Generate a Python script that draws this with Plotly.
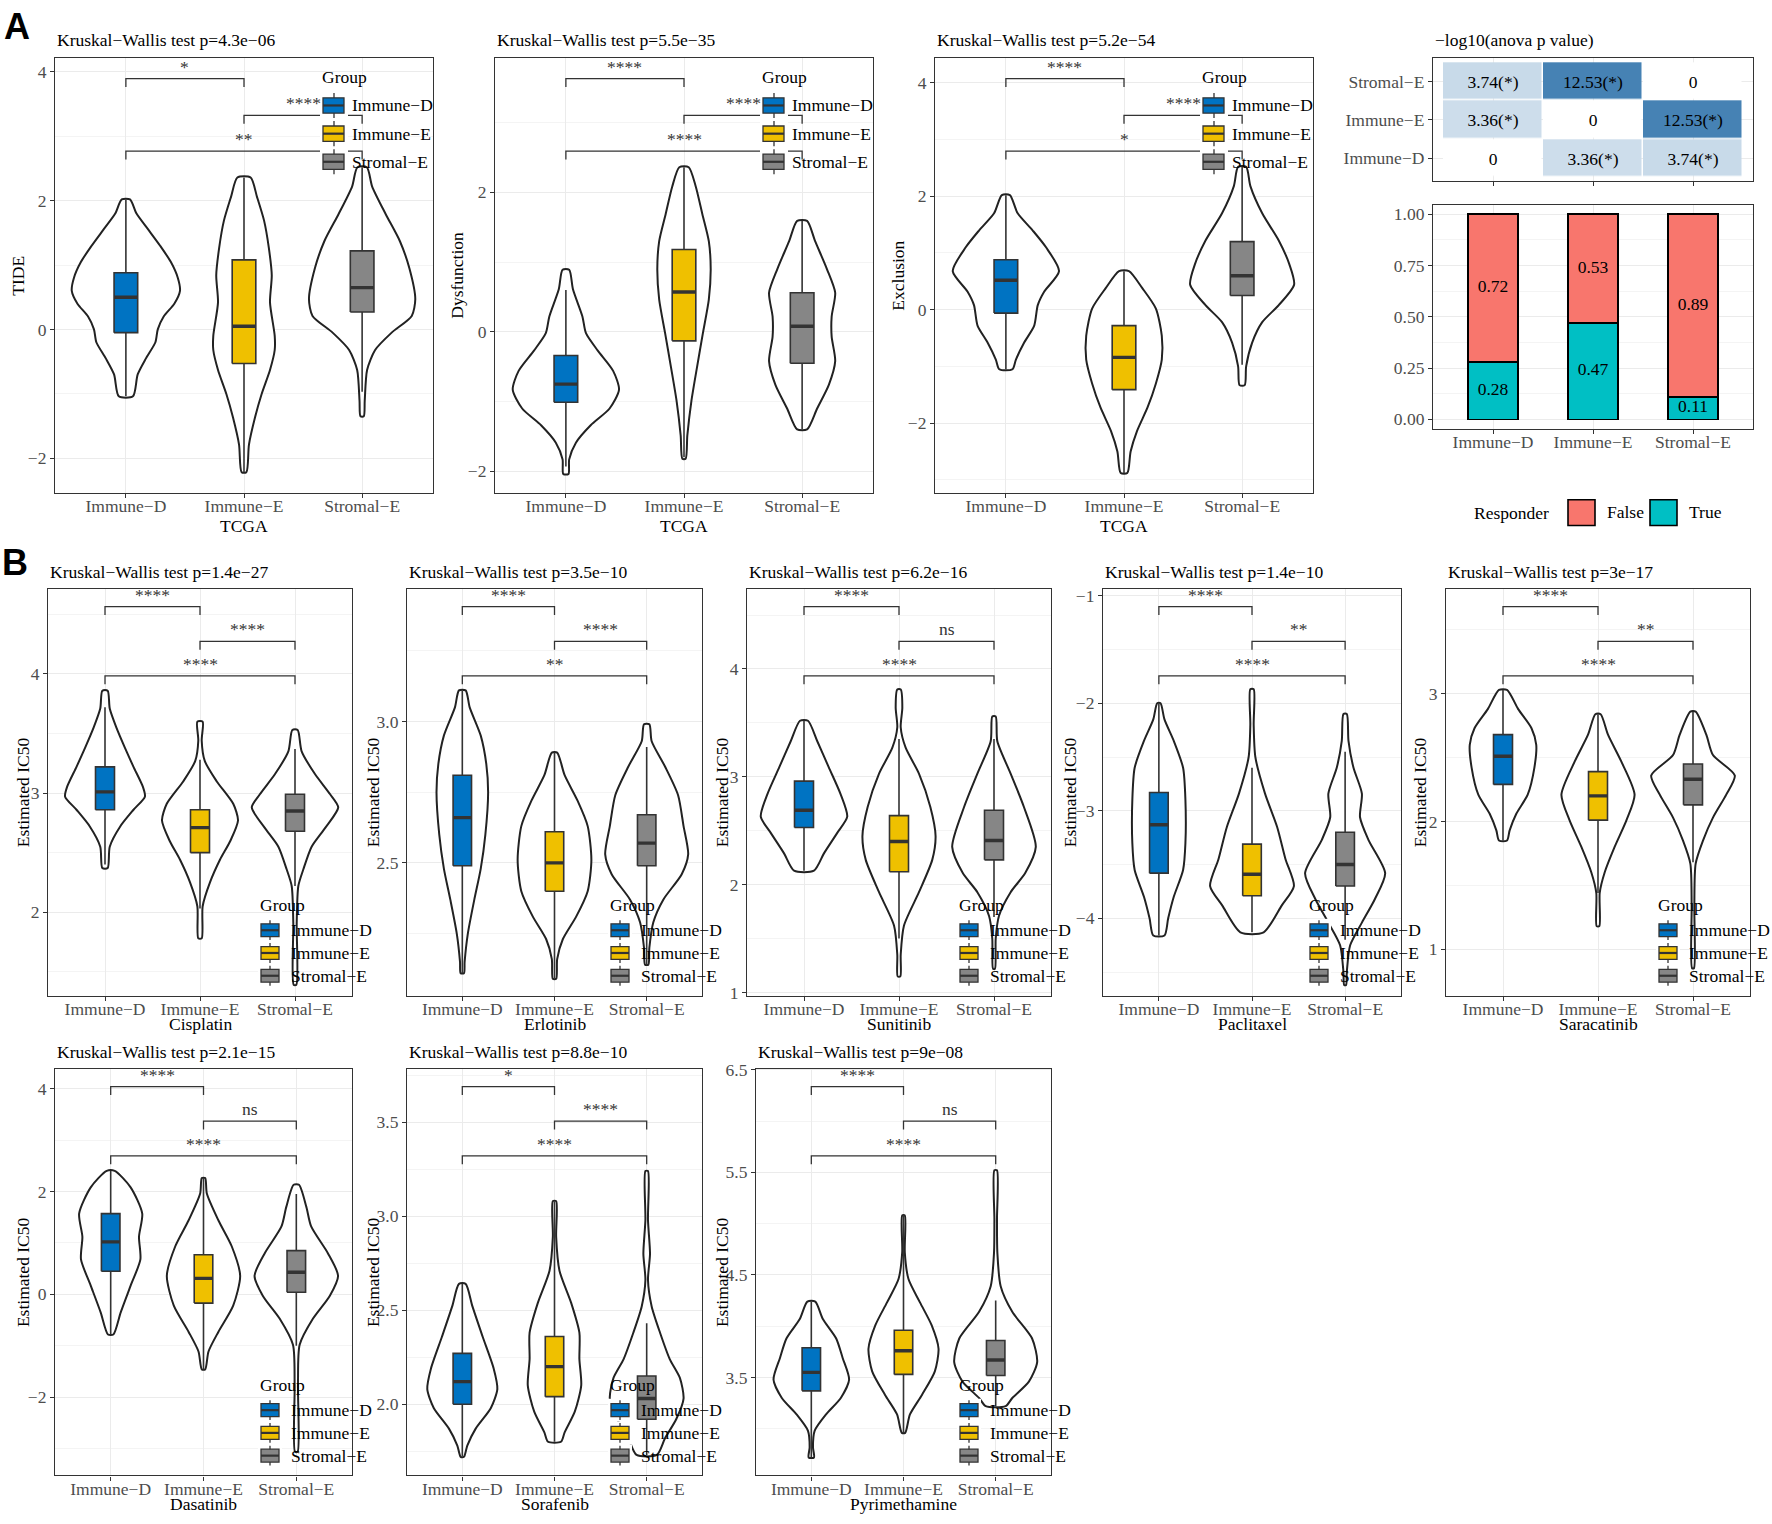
import plotly.graph_objects as go

W, H = 1772, 1524
FONT = "Liberation Serif, 'Times New Roman', serif"
GROUPS = ["Immune−D", "Immune−E", "Stromal−E"]
GROUP_COLORS = ["#0073C2", "#EFC000", "#868686"]
POS = [1, 2, 3]

# ---------------- data ----------------
# violin profiles: [value, half-width in category units], top -> bottom
TIDE_D = [[2.02, .035], [1.8, .09], [1.55, .19], [1.3, .29], [1.05, .38], [0.8, .44], [0.6, .458], [0.4, .41], [0.2, .32], [0.0, .27], [-0.2, .25], [-0.45, .17], [-0.7, .1], [-1.04, .06]]
TIDE_E = [[2.36, .056], [2.06, .11], [1.69, .17], [1.27, .21], [0.84, .235], [0.42, .22], [-0.1, .26], [-0.32, .26], [-0.63, .22], [-1.0, .15], [-1.37, .093], [-1.79, .042], [-2.22, .02]]
TIDE_S = [[2.52, .04], [2.22, .085], [1.79, .2], [1.37, .32], [0.95, .40], [0.47, .45], [0.21, .42], [-0.05, .25], [-0.32, .11], [-0.63, .042], [-1.11, .022], [-1.35, .014]]
TIDE_Q1 = [-0.05, -0.53, 0.27]
TIDE_MED = [0.5, 0.05, 0.65]
TIDE_Q3 = [0.88, 1.08, 1.22]
TIDE_LO = [-1.04, -2.22, -0.97]
TIDE_HI = [2.02, 2.36, 2.52]
TIDE_SIG = ["*", "****", "**"]

DYS_D = [[0.89, .028], [0.61, .06], [0.22, .14], [-0.02, .17], [-0.27, .27], [-0.56, .40], [-0.83, .45], [-1.1, .37], [-1.34, .21], [-1.59, .085], [-1.83, .028], [-2.04, .022]]
DYS_E = [[2.36, .04], [2.08, .1], [1.69, .155], [1.3, .21], [0.9, .226], [0.46, .21], [-0.02, .16], [-0.51, .11], [-1.0, .062], [-1.49, .028], [-1.82, .014]]
DYS_S = [[1.59, .042], [1.3, .11], [0.9, .21], [0.56, .28], [0.22, .25], [-0.07, .25], [-0.42, .28], [-0.76, .226], [-1.1, .127], [-1.4, .042]]
DYS_Q1 = [-1.01, -0.13, -0.45]
DYS_MED = [-0.75, 0.57, 0.08]
DYS_Q3 = [-0.34, 1.18, 0.56]
DYS_LO = [-1.93, -1.8, -1.4]
DYS_HI = [0.6, 2.36, 1.59]
DYS_SIG = ["****", "****", "****"]

EXC_D = [[2.02, .034], [1.7, .1], [1.4, .226], [1.1, .34], [0.68, .45], [0.32, .325], [0.08, .27], [-0.28, .24], [-0.58, .155], [-0.88, .085], [-1.05, .056]]
EXC_E = [[0.68, .042], [0.38, .155], [0.02, .27], [-0.46, .32], [-0.88, .32], [-1.3, .27], [-1.72, .2], [-2.14, .11], [-2.5, .056], [-2.88, .028]]
EXC_S = [[2.52, .034], [2.18, .07], [1.7, .17], [1.22, .31], [0.8, .40], [0.44, .44], [0.08, .31], [-0.22, .17], [-0.58, .085], [-1.0, .034], [-1.33, .022]]
EXC_Q1 = [-0.06, -1.41, 0.25]
EXC_MED = [0.52, -0.84, 0.6]
EXC_Q3 = [0.88, -0.28, 1.2]
EXC_LO = [-1.05, -2.88, -0.97]
EXC_HI = [2.02, 0.68, 2.52]
EXC_SIG = ["****", "****", "*"]

CIS_D = [[3.86, .028], [3.71, .05], [3.55, .12], [3.38, .21], [3.22, .3], [3.05, .40], [2.97, .42], [2.86, .3], [2.72, .16], [2.55, .05], [2.37, .028]]
CIS_E = [[3.6, .028], [3.44, .018], [3.27, .05], [3.1, .175], [2.91, .35], [2.77, .40], [2.6, .32], [2.44, .21], [2.25, .105], [2.05, .028], [1.78, .018]]
CIS_S = [[3.53, .028], [3.35, .07], [3.16, .21], [2.99, .37], [2.88, .455], [2.71, .32], [2.55, .175], [2.36, .088], [2.22, .035], [1.91, .018], [1.39, .014]]
CIS_Q1 = [2.86, 2.5, 2.68]
CIS_MED = [3.01, 2.71, 2.85]
CIS_Q3 = [3.22, 2.86, 2.99]
CIS_LO = [2.4, 2.03, 2.22]
CIS_HI = [3.72, 3.28, 3.37]
CIS_SIG = ["****", "****", "****"]

ERL_D = [[3.11, .036], [3.05, .08], [2.95, .2], [2.85, .26], [2.75, .28], [2.6, .25], [2.48, .2], [2.37, .13], [2.25, .06], [2.15, .025], [2.11, .018]]
ERL_E = [[2.89, .029], [2.81, .11], [2.72, .25], [2.63, .36], [2.51, .40], [2.4, .36], [2.31, .235], [2.23, .09], [2.16, .029], [2.09, .018]]
ERL_S = [[2.99, .029], [2.93, .054], [2.84, .2], [2.74, .34], [2.63, .40], [2.53, .45], [2.46, .38], [2.37, .18], [2.29, .072], [2.2, .029], [2.14, .018]]
ERL_Q1 = [2.49, 2.4, 2.49]
ERL_MED = [2.66, 2.5, 2.57]
ERL_Q3 = [2.81, 2.61, 2.67]
ERL_LO = [2.11, 2.09, 2.14]
ERL_HI = [3.11, 2.89, 2.91]
ERL_SIG = ["****", "****", "**"]

SUN_D = [[3.52, .042], [3.33, .14], [3.09, .26], [2.84, .385], [2.63, .455], [2.48, .35], [2.29, .21], [2.13, .105]]
SUN_E = [[3.81, .018], [3.64, .035], [3.46, .018], [3.27, .07], [3.03, .21], [2.72, .33], [2.45, .385], [2.23, .35], [1.93, .21], [1.62, .052], [1.35, .018], [1.15, .014]]
SUN_S = [[3.56, .018], [3.33, .035], [3.03, .175], [2.72, .315], [2.35, .44], [2.11, .33], [1.93, .175], [1.71, .052], [1.5, .018], [1.22, .01]]
SUN_Q1 = [2.53, 2.12, 2.23]
SUN_MED = [2.69, 2.4, 2.41]
SUN_Q3 = [2.96, 2.64, 2.69]
SUN_LO = [2.13, 1.5, 1.7]
SUN_HI = [3.52, 3.35, 3.35]
SUN_SIG = ["****", "ns", "****"]

PAC_D = [[-2.0, .018], [-2.15, .06], [-2.35, .16], [-2.6, .26], [-2.9, .285], [-3.3, .285], [-3.55, .26], [-3.8, .16], [-4.0, .1], [-4.16, .06]]
PAC_E = [[-1.87, .018], [-2.2, .018], [-2.5, .036], [-2.84, .14], [-3.15, .27], [-3.45, .36], [-3.7, .45], [-3.88, .32], [-4.13, .125]]
PAC_S = [[-2.1, .018], [-2.35, .036], [-2.6, .09], [-2.84, .18], [-3.06, .16], [-3.27, .25], [-3.58, .43], [-3.82, .32], [-4.04, .18], [-4.25, .054], [-4.5, .018], [-4.62, .01]]
PAC_Q1 = [-3.58, -3.79, -3.7]
PAC_MED = [-3.13, -3.59, -3.5]
PAC_Q3 = [-2.83, -3.31, -3.2]
PAC_LO = [-4.16, -4.13, -4.2]
PAC_HI = [-2.0, -2.6, -2.45]
PAC_SIG = ["****", "**", "****"]

SAR_D = [[3.03, .042], [2.88, .16], [2.73, .3], [2.6, .35], [2.42, .33], [2.21, .26], [2.06, .14], [1.93, .07], [1.85, .042]]
SAR_E = [[2.84, .028], [2.68, .105], [2.47, .245], [2.21, .385], [2.01, .3], [1.8, .175], [1.6, .07], [1.44, .018], [1.18, .014]]
SAR_S = [[2.86, .028], [2.68, .14], [2.52, .21], [2.36, .44], [2.21, .35], [2.03, .21], [1.85, .105], [1.67, .028], [1.34, .014], [0.85, .01]]
SAR_Q1 = [2.29, 2.01, 2.13]
SAR_MED = [2.51, 2.2, 2.33]
SAR_Q3 = [2.68, 2.39, 2.45]
SAR_LO = [1.85, 1.44, 1.68]
SAR_HI = [3.03, 2.84, 2.86]
SAR_SIG = ["****", "**", "****"]

DAS_D = [[2.4, .043], [2.08, .215], [1.57, .34], [1.12, .305], [0.68, .32], [0.17, .215], [-0.35, .108], [-0.78, .029]]
DAS_E = [[2.26, .018], [1.96, .036], [1.44, .16], [0.93, .305], [0.36, .395], [-0.22, .32], [-0.73, .16], [-1.11, .054], [-1.46, .018]]
DAS_S = [[2.13, .029], [1.7, .108], [1.32, .16], [0.8, .34], [0.36, .45], [-0.03, .36], [-0.47, .18], [-0.98, .036], [-1.75, .018], [-3.06, .014]]
DAS_Q1 = [0.45, -0.17, 0.04]
DAS_MED = [1.02, 0.31, 0.43]
DAS_Q3 = [1.57, 0.77, 0.85]
DAS_LO = [-0.78, -1.46, -1.0]
DAS_HI = [2.4, 2.26, 1.95]
DAS_SIG = ["****", "ns", "****"]

SOR_D = [[2.64, .036], [2.52, .11], [2.36, .22], [2.19, .34], [2.08, .38], [1.98, .31], [1.87, .145], [1.78, .054], [1.72, .018]]
SOR_E = [[3.08, .018], [2.89, .018], [2.71, .054], [2.54, .18], [2.38, .27], [2.24, .27], [2.1, .29], [1.96, .22], [1.85, .11], [1.8, .07]]
SOR_S = [[3.24, .014], [2.98, .014], [2.8, .036], [2.66, .014], [2.52, .054], [2.38, .145], [2.24, .25], [2.14, .36], [2.03, .4], [1.92, .32], [1.82, .2], [1.73, .11]]
SOR_Q1 = [2.0, 2.04, 1.92]
SOR_MED = [2.12, 2.2, 2.03]
SOR_Q3 = [2.27, 2.36, 2.15]
SOR_LO = [1.72, 1.8, 1.73]
SOR_HI = [2.64, 3.08, 2.43]
SOR_SIG = ["*", "****", "****"]

PYR_D = [[4.24, .043], [4.07, .125], [3.88, .27], [3.69, .34], [3.48, .41], [3.3, .32], [3.14, .16], [2.98, .036], [2.82, .018], [2.72, .029]]
PYR_E = [[5.08, .014], [4.72, .014], [4.46, .054], [4.23, .18], [4.01, .305], [3.78, .38], [3.56, .34], [3.33, .2], [3.14, .07], [2.96, .018]]
PYR_S = [[5.52, .014], [5.04, .014], [4.72, .018], [4.39, .054], [4.14, .18], [3.88, .395], [3.65, .45], [3.46, .36], [3.3, .18], [3.22, .108]]
PYR_Q1 = [3.37, 3.53, 3.52]
PYR_MED = [3.55, 3.76, 3.67]
PYR_Q3 = [3.79, 3.96, 3.86]
PYR_LO = [2.72, 2.96, 3.22]
PYR_HI = [4.24, 5.08, 4.25]
PYR_SIG = ["****", "ns", "****"]

HEAT_ROWS = ["Immune−D", "Immune−E", "Stromal−E"]
HEAT_Z = [[0, 3.36, 3.74], [3.36, 0, 12.53], [3.74, 12.53, 0]]

RESP_TRUE = [0.28, 0.47, 0.11]
RESP_FALSE = [0.72, 0.53, 0.89]

# ---------------- layout helpers ----------------
def xp(px):
    return px / W


def yp(py):
    return 1 - py / H


FS = 17.5
AX_LINE = "#333333"
GRID = "#EBEBEB"
MINOR = "#F4F4F4"
TICKFONT = dict(family=FONT, size=FS, color="#4D4D4D")
TXT = dict(family=FONT, size=FS, color="black")
BOX_HALF = 0.1

fig = go.Figure()
shapes, annos = [], []
lay = {}


def names(n):
    s = "" if n == 1 else str(n)
    return "x" + s, "y" + s, "xaxis" + s, "yaxis" + s


def xaxis_def(l, r, yref, labels=True):
    return dict(domain=[xp(l), xp(r)], anchor=yref, range=[0.4, 3.6], tickmode="array",
                tickvals=POS, ticktext=GROUPS, showticklabels=labels, showline=True, mirror=True,
                linecolor=AX_LINE, linewidth=1.2, ticks="outside", ticklen=4, tickwidth=1,
                tickcolor=AX_LINE, showgrid=True, gridcolor=GRID, gridwidth=1.2, zeroline=False,
                tickfont=TICKFONT, fixedrange=True, ticklabelstandoff=-7)


def yaxis_def(t, b, xref, yr, dtick, tick0, fmt):
    return dict(domain=[yp(b), yp(t)], anchor=xref, range=list(yr), tickmode="linear",
                dtick=dtick, tick0=tick0, tickformat=fmt, showline=True, mirror=True,
                linecolor=AX_LINE, linewidth=1.2, ticks="outside", ticklen=4, tickwidth=1,
                tickcolor=AX_LINE, showgrid=True, gridcolor=GRID, gridwidth=1.2, zeroline=False,
                tickfont=TICKFONT, fixedrange=True,
                minor=dict(dtick=dtick / 2, tick0=tick0, showgrid=True, gridcolor=MINOR, gridwidth=1))


def group_legend(title_x, title_y, cell_x0, cell_x1, box_x0, box_x1, centers, cell_h, box_h, label_x):
    annos.append(dict(xref="paper", yref="paper", x=xp(title_x), y=yp(title_y), text="Group",
                      showarrow=False, xanchor="left", yanchor="middle", font=TXT))
    cx = (cell_x0 + cell_x1) / 2
    for cy, col, lab in zip(centers, GROUP_COLORS, GROUPS):
        shapes.append(dict(type="rect", xref="paper", yref="paper", x0=xp(cell_x0), x1=xp(cell_x1),
                           y0=yp(cy - cell_h / 2), y1=yp(cy + cell_h / 2), fillcolor="white",
                           line=dict(width=0), layer="above"))
        shapes.append(dict(type="line", xref="paper", yref="paper", x0=xp(cx), x1=xp(cx),
                           y0=yp(cy - cell_h / 2 + 1.5), y1=yp(cy + cell_h / 2 - 1.5),
                           line=dict(color=AX_LINE, width=1.3), layer="above"))
        shapes.append(dict(type="rect", xref="paper", yref="paper", x0=xp(box_x0), x1=xp(box_x1),
                           y0=yp(cy - box_h / 2), y1=yp(cy + box_h / 2), fillcolor=col,
                           line=dict(color=AX_LINE, width=1.3), layer="above"))
        shapes.append(dict(type="line", xref="paper", yref="paper", x0=xp(box_x0), x1=xp(box_x1),
                           y0=yp(cy), y1=yp(cy), line=dict(color=AX_LINE, width=2.2), layer="above"))
        annos.append(dict(xref="paper", yref="paper", x=xp(label_x), y=yp(cy), text=lab,
                          showarrow=False, xanchor="left", yanchor="middle", font=TXT))


# ---------------- violin panels ----------------
A_TOP, A_BOT = 50, 489
PANELS = [
    dict(n=1, box=(55, 433, A_TOP, A_BOT), yr=(-2.54, 4.21), dt=2, t0=0, fmt="", ytitle="TIDE", ytx=18,
         xtitle="TCGA", title="Kruskal−Wallis test p=4.3e−06", leg="top",
         prof=[TIDE_D, TIDE_E, TIDE_S], q1=TIDE_Q1, med=TIDE_MED, q3=TIDE_Q3, lo=TIDE_LO, hi=TIDE_HI, sig=TIDE_SIG),
    dict(n=2, box=(495, 873, A_TOP, A_BOT), yr=(-2.31, 3.92), dt=2, t0=0, fmt="", ytitle="Dysfunction", ytx=457,
         xtitle="TCGA", title="Kruskal−Wallis test p=5.5e−35", leg="top",
         prof=[DYS_D, DYS_E, DYS_S], q1=DYS_Q1, med=DYS_MED, q3=DYS_Q3, lo=DYS_LO, hi=DYS_HI, sig=DYS_SIG),
    dict(n=3, box=(935, 1313, A_TOP, A_BOT), yr=(-3.23, 4.43), dt=2, t0=0, fmt="", ytitle="Exclusion", ytx=898,
         xtitle="TCGA", title="Kruskal−Wallis test p=5.2e−54", leg="top",
         prof=[EXC_D, EXC_E, EXC_S], q1=EXC_Q1, med=EXC_MED, q3=EXC_Q3, lo=EXC_LO, hi=EXC_HI, sig=EXC_SIG),
    dict(n=6, box=(48, 352, 586, 997), yr=(1.30, 4.715), dt=1, t0=0, fmt="", ytitle="Estimated IC50", ytx=23,
         xtitle="Cisplatin", title="Kruskal−Wallis test p=1.4e−27", leg="bottom",
         prof=[CIS_D, CIS_E, CIS_S], q1=CIS_Q1, med=CIS_MED, q3=CIS_Q3, lo=CIS_LO, hi=CIS_HI, sig=CIS_SIG),
    dict(n=7, box=(407, 702, 586, 997), yr=(2.031, 3.469), dt=0.5, t0=0, fmt=".1f", ytitle="Estimated IC50", ytx=373,
         xtitle="Erlotinib", title="Kruskal−Wallis test p=3.5e−10", leg="bottom",
         prof=[ERL_D, ERL_E, ERL_S], q1=ERL_Q1, med=ERL_MED, q3=ERL_Q3, lo=ERL_LO, hi=ERL_HI, sig=ERL_SIG),
    dict(n=8, box=(747, 1051, 586, 997), yr=(0.972, 4.743), dt=1, t0=0, fmt="", ytitle="Estimated IC50", ytx=722,
         xtitle="Sunitinib", title="Kruskal−Wallis test p=6.2e−16", leg="bottom",
         prof=[SUN_D, SUN_E, SUN_S], q1=SUN_Q1, med=SUN_MED, q3=SUN_Q3, lo=SUN_LO, hi=SUN_HI, sig=SUN_SIG),
    dict(n=9, box=(1103, 1401, 586, 997), yr=(-4.718, -0.936), dt=1, t0=0, fmt="", ytitle="Estimated IC50", ytx=1070,
         xtitle="Paclitaxel", title="Kruskal−Wallis test p=1.4e−10", leg="bottom",
         prof=[PAC_D, PAC_E, PAC_S], q1=PAC_Q1, med=PAC_MED, q3=PAC_Q3, lo=PAC_LO, hi=PAC_HI, sig=PAC_SIG),
    dict(n=10, box=(1446, 1750, 586, 997), yr=(0.636, 3.822), dt=1, t0=0, fmt="", ytitle="Estimated IC50", ytx=1420,
         xtitle="Saracatinib", title="Kruskal−Wallis test p=3e−17", leg="bottom",
         prof=[SAR_D, SAR_E, SAR_S], q1=SAR_Q1, med=SAR_MED, q3=SAR_Q3, lo=SAR_LO, hi=SAR_HI, sig=SAR_SIG),
    dict(n=11, box=(55, 352, 1071, 1482), yr=(-3.52, 4.385), dt=2, t0=0, fmt="", ytitle="Estimated IC50", ytx=23,
         xtitle="Dasatinib", title="Kruskal−Wallis test p=2.1e−15", leg="bottom",
         prof=[DAS_D, DAS_E, DAS_S], q1=DAS_Q1, med=DAS_MED, q3=DAS_Q3, lo=DAS_LO, hi=DAS_HI, sig=DAS_SIG),
    dict(n=12, box=(407, 702, 1071, 1482), yr=(1.621, 3.784), dt=0.5, t0=0, fmt=".1f", ytitle="Estimated IC50", ytx=373,
         xtitle="Sorafenib", title="Kruskal−Wallis test p=8.8e−10", leg="bottom",
         prof=[SOR_D, SOR_E, SOR_S], q1=SOR_Q1, med=SOR_MED, q3=SOR_Q3, lo=SOR_LO, hi=SOR_HI, sig=SOR_SIG),
    dict(n=13, box=(756, 1051, 1071, 1482), yr=(2.545, 6.51), dt=1, t0=0.5, fmt=".1f", ytitle="Estimated IC50", ytx=722,
         xtitle="Pyrimethamine", title="Kruskal−Wallis test p=9e−08", leg="bottom",
         prof=[PYR_D, PYR_E, PYR_S], q1=PYR_Q1, med=PYR_MED, q3=PYR_Q3, lo=PYR_LO, hi=PYR_HI, sig=PYR_SIG),
]

PAIRS = [(1, 2), (2, 3), (1, 3)]

for P in PANELS:
    xr, yr_, xk, yk = names(P["n"])
    l, r, t, b = P["box"]
    top_row = P["leg"] == "top"
    lay[xk] = xaxis_def(l, r, yr_)
    lay[yk] = yaxis_def(t, b, xr, P["yr"], P["dt"], P["t0"], P["fmt"])
    y0, y1 = P["yr"]

    def val(py):
        return y1 - (py - t) / (b - t) * (y1 - y0)

    for i, c in enumerate(POS):
        prof = P["prof"][i]
        ys = [p[0] for p in prof]
        ws = [p[1] for p in prof]
        vx = [c - w for w in ws] + [c + w for w in reversed(ws)] + [c - ws[0]]
        vy = ys + list(reversed(ys)) + [ys[0]]
        # violin outline
        fig.add_trace(go.Scatter(x=vx, y=vy, xaxis=xr, yaxis=yr_, mode="lines", fill="toself",
                                 fillcolor="white", line=dict(color="#222222", width=2, shape="spline", smoothing=0.7),
                                 hoverinfo="skip", showlegend=False))
        q1, md, q3, lo, hi = P["q1"][i], P["med"][i], P["q3"][i], P["lo"][i], P["hi"][i]
        # whiskers
        fig.add_trace(go.Scatter(x=[c, c, None, c, c], y=[hi, q3, None, q1, lo], xaxis=xr, yaxis=yr_,
                                 mode="lines", line=dict(color="#333333", width=1.6),
                                 hoverinfo="skip", showlegend=False))
        # box body
        fig.add_trace(go.Scatter(x=[c - BOX_HALF, c + BOX_HALF, c + BOX_HALF, c - BOX_HALF, c - BOX_HALF],
                                 y=[q1, q1, q3, q3, q1], xaxis=xr, yaxis=yr_, mode="lines", fill="toself",
                                 fillcolor=GROUP_COLORS[i], line=dict(color="#333333", width=1.6),
                                 hoverinfo="skip", showlegend=False))
        # median
        fig.add_trace(go.Scatter(x=[c - BOX_HALF, c + BOX_HALF], y=[md, md], xaxis=xr, yaxis=yr_,
                                 mode="lines", line=dict(color="#333333", width=3.4),
                                 hoverinfo="skip", showlegend=False))

    # significance brackets (positions are layout offsets from the panel top)
    offs = (20.3, 57.4, 93.6) if top_row else (18, 53, 88)
    for (a, bb), off, sig in zip(PAIRS, offs, P["sig"]):
        lvl = val(t + off)
        tip = val(t + off + 8.5)
        shapes.append(dict(type="path", xref=xr, yref=yr_,
                           path=f"M {a},{tip} L {a},{lvl} L {bb},{lvl} L {bb},{tip}",
                           line=dict(color="#333333", width=1.3), layer="above"))
        annos.append(dict(xref=xr, yref=yr_, x=(a + bb) / 2, y=lvl, text=sig, showarrow=False,
                          xanchor="center", yanchor="bottom", yshift=0,
                          font=dict(family=FONT, size=FS, color="#333333")))

    # titles
    annos.append(dict(xref="paper", yref="paper", x=xp(l), y=yp(t - (19 if top_row else 17)), text=P["title"],
                      showarrow=False, xanchor="left", yanchor="middle", font=TXT))
    annos.append(dict(xref="paper", yref="paper", x=xp((l + r) / 2), y=yp(b + (33 if top_row else 29)),
                      text=P["xtitle"], showarrow=False, xanchor="center", yanchor="middle", font=TXT))
    annos.append(dict(xref="paper", yref="paper", x=xp(P["ytx"]), y=yp((t + b) / 2), text=P["ytitle"],
                      showarrow=False, textangle=-90, xanchor="center", yanchor="middle", font=TXT))

    if top_row:
        group_legend(r - 113, t + 18.6, r - 113, r - 85, r - 110, r - 89,
                     [t + 47.5, t + 76, t + 104.4], 28.4, 15.5, r - 83)
    else:
        group_legend(r - 94, b - 91, r - 94, r - 70, r - 91, r - 73,
                     [b - 66, b - 43, b - 20], 23, 13, r - 63)

# ---------------- heatmap (A, top right) ----------------
hx, hy, hxk, hyk = names(4)
lay[hxk] = xaxis_def(1433, 1753, hy, labels=False)
lay[hyk] = dict(domain=[yp(174), yp(50)], anchor=hx, range=[0.4, 3.6], tickmode="array", tickvals=POS,
                ticktext=HEAT_ROWS, showline=True, mirror=True, linecolor=AX_LINE, linewidth=1.2,
                ticks="outside", ticklen=4, tickwidth=1, tickcolor=AX_LINE, showgrid=True, gridcolor=GRID,
                zeroline=False, tickfont=TICKFONT, fixedrange=True)
zmax = max(max(row) for row in HEAT_Z)
heat_text = [[("%.2f(*)" % v) if v > 0 else "0" for v in row] for row in HEAT_Z]
fig.add_trace(go.Heatmap(z=HEAT_Z, x=POS, y=POS, xaxis=hx, yaxis=hy, zmin=0, zmax=zmax,
                         colorscale=[[0, "#FFFFFF"], [1, "#4682B4"]], showscale=False, xgap=1.5, ygap=1.5,
                         text=heat_text, texttemplate="%{text}", textfont=dict(family=FONT, size=FS, color="black"),
                         hoverinfo="skip"))
annos.append(dict(xref="paper", yref="paper", x=xp(1433), y=yp(31), text="−log10(anova p value)",
                  showarrow=False, xanchor="left", yanchor="middle", font=TXT))

# ---------------- stacked bars (A, right) ----------------
bx, by, bxk, byk = names(5)
lay[bxk] = xaxis_def(1433, 1753, by)
lay[byk] = yaxis_def(198, 424, bx, (-0.045, 1.045), 0.25, 0, ".2f")
fig.add_trace(go.Bar(x=POS, y=RESP_TRUE, width=0.5, xaxis=bx, yaxis=by, name="True",
                     marker=dict(color="#00BFC4", line=dict(color="black", width=1.6)),
                     hoverinfo="skip", showlegend=False))
fig.add_trace(go.Bar(x=POS, y=RESP_FALSE, width=0.5, xaxis=bx, yaxis=by, name="False",
                     marker=dict(color="#F8766D", line=dict(color="black", width=1.6)),
                     hoverinfo="skip", showlegend=False))
fig.add_trace(go.Scatter(x=POS + POS,
                         y=[v / 2 for v in RESP_TRUE] + [tv + fv / 2 for tv, fv in zip(RESP_TRUE, RESP_FALSE)],
                         text=["%.2f" % v for v in RESP_TRUE] + ["%.2f" % v for v in RESP_FALSE],
                         mode="text", textfont=dict(family=FONT, size=FS, color="black"),
                         xaxis=bx, yaxis=by, hoverinfo="skip", showlegend=False))

# Responder legend
annos.append(dict(xref="paper", yref="paper", x=xp(1472), y=yp(509), text="Responder", showarrow=False,
                  xanchor="left", yanchor="middle", font=TXT))
for kx0, col, lab in [(1568, "#F8766D", "False"), (1650, "#00BFC4", "True")]:
    shapes.append(dict(type="rect", xref="paper", yref="paper", x0=xp(kx0), x1=xp(kx0 + 27),
                       y0=yp(522), y1=yp(496), fillcolor=col, line=dict(color="black", width=1.6)))
    annos.append(dict(xref="paper", yref="paper", x=xp(kx0 + 37), y=yp(508), text=lab, showarrow=False,
                      xanchor="left", yanchor="middle", font=TXT))

# panel tags
annos.append(dict(xref="paper", yref="paper", x=xp(2), y=yp(18), text="<b>A</b>", showarrow=False,
                  xanchor="left", yanchor="middle", font=dict(family="Liberation Sans, Arial, sans-serif", size=36, color="black")))
annos.append(dict(xref="paper", yref="paper", x=xp(0), y=yp(559), text="<b>B</b>", showarrow=False,
                  xanchor="left", yanchor="middle", font=dict(family="Liberation Sans, Arial, sans-serif", size=36, color="black")))

fig.update_layout(width=W, height=H, margin=dict(l=0, r=0, t=0, b=0), plot_bgcolor="white",
                  paper_bgcolor="white", showlegend=False, barmode="stack",
                  shapes=shapes, annotations=annos, font=dict(family=FONT, size=FS, color="black"), **lay)

fig.write_html("out.html", config={"displayModeBar": False},
               post_script="document.body.style.margin='0';document.body.style.overflow='hidden';")
